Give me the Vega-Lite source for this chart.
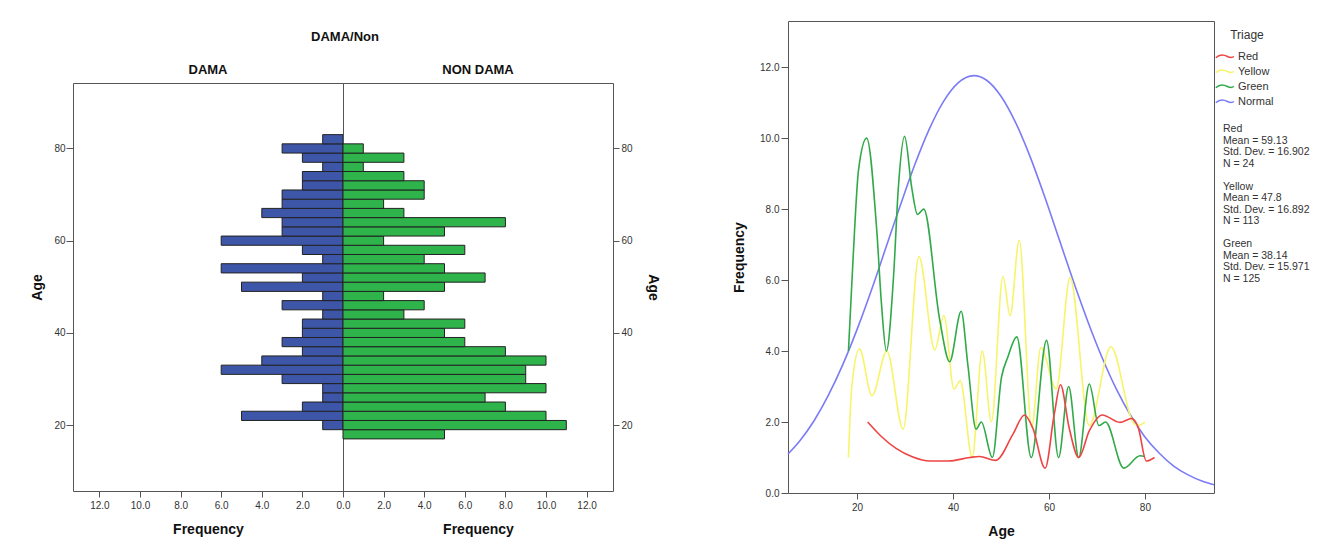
{
  "$schema": "https://vega.github.io/schema/vega-lite/v6.json",
  "background": "white",
  "padding": {"left": 30, "top": 18, "right": 0, "bottom": 0},
  "config": {
    "font": "Liberation Sans",
    "view": {"stroke": "#555", "strokeWidth": 1},
    "axis": {"labelFontSize": 10, "labelColor": "#333", "titleFontSize": 14, "titleFontWeight": "bold", "titleColor": "#111", "tickColor": "#555", "tickSize": 6, "domain": false, "grid": false, "labelFlush": false, "labelPadding": 3},
    "title": {"fontSize": 13, "fontWeight": "bold", "color": "#111"},
    "legend": {"labelColor": "#333", "titleColor": "#333"}
  },
  "datasets": {
    "pyr": [
      {"lo": 17, "hi": 19, "dama": 0, "non": 5},
      {"lo": 19, "hi": 21, "dama": 1, "non": 11},
      {"lo": 21, "hi": 23, "dama": 5, "non": 10},
      {"lo": 23, "hi": 25, "dama": 2, "non": 8},
      {"lo": 25, "hi": 27, "dama": 1, "non": 7},
      {"lo": 27, "hi": 29, "dama": 1, "non": 10},
      {"lo": 29, "hi": 31, "dama": 3, "non": 9},
      {"lo": 31, "hi": 33, "dama": 6, "non": 9},
      {"lo": 33, "hi": 35, "dama": 4, "non": 10},
      {"lo": 35, "hi": 37, "dama": 2, "non": 8},
      {"lo": 37, "hi": 39, "dama": 3, "non": 6},
      {"lo": 39, "hi": 41, "dama": 2, "non": 5},
      {"lo": 41, "hi": 43, "dama": 2, "non": 6},
      {"lo": 43, "hi": 45, "dama": 1, "non": 3},
      {"lo": 45, "hi": 47, "dama": 3, "non": 4},
      {"lo": 47, "hi": 49, "dama": 1, "non": 2},
      {"lo": 49, "hi": 51, "dama": 5, "non": 5},
      {"lo": 51, "hi": 53, "dama": 2, "non": 7},
      {"lo": 53, "hi": 55, "dama": 6, "non": 5},
      {"lo": 55, "hi": 57, "dama": 1, "non": 4},
      {"lo": 57, "hi": 59, "dama": 2, "non": 6},
      {"lo": 59, "hi": 61, "dama": 6, "non": 2},
      {"lo": 61, "hi": 63, "dama": 3, "non": 5},
      {"lo": 63, "hi": 65, "dama": 3, "non": 8},
      {"lo": 65, "hi": 67, "dama": 4, "non": 3},
      {"lo": 67, "hi": 69, "dama": 3, "non": 2},
      {"lo": 69, "hi": 71, "dama": 3, "non": 4},
      {"lo": 71, "hi": 73, "dama": 2, "non": 4},
      {"lo": 73, "hi": 75, "dama": 2, "non": 3},
      {"lo": 75, "hi": 77, "dama": 1, "non": 1},
      {"lo": 77, "hi": 79, "dama": 2, "non": 3},
      {"lo": 79, "hi": 81, "dama": 3, "non": 1},
      {"lo": 81, "hi": 83, "dama": 1, "non": 0}
    ],
    "curves": [
      {"series": "Normal", "age": 5.6, "freq": 1.10},
      {"series": "Normal", "age": 8, "freq": 1.46},
      {"series": "Normal", "age": 11, "freq": 2.03},
      {"series": "Normal", "age": 14, "freq": 2.75},
      {"series": "Normal", "age": 17, "freq": 3.61},
      {"series": "Normal", "age": 20, "freq": 4.61},
      {"series": "Normal", "age": 23, "freq": 5.72},
      {"series": "Normal", "age": 26, "freq": 6.91},
      {"series": "Normal", "age": 29, "freq": 8.10},
      {"series": "Normal", "age": 32, "freq": 9.24},
      {"series": "Normal", "age": 35, "freq": 10.24},
      {"series": "Normal", "age": 38, "freq": 11.03},
      {"series": "Normal", "age": 41, "freq": 11.55},
      {"series": "Normal", "age": 44.36, "freq": 11.76},
      {"series": "Normal", "age": 47, "freq": 11.63},
      {"series": "Normal", "age": 50, "freq": 11.18},
      {"series": "Normal", "age": 53, "freq": 10.45},
      {"series": "Normal", "age": 56, "freq": 9.50},
      {"series": "Normal", "age": 59, "freq": 8.39},
      {"series": "Normal", "age": 62, "freq": 7.20},
      {"series": "Normal", "age": 65, "freq": 6.00},
      {"series": "Normal", "age": 68, "freq": 4.87},
      {"series": "Normal", "age": 71, "freq": 3.84},
      {"series": "Normal", "age": 74, "freq": 2.94},
      {"series": "Normal", "age": 77, "freq": 2.19},
      {"series": "Normal", "age": 80, "freq": 1.58},
      {"series": "Normal", "age": 83, "freq": 1.12},
      {"series": "Normal", "age": 86, "freq": 0.76},
      {"series": "Normal", "age": 89, "freq": 0.51},
      {"series": "Normal", "age": 92, "freq": 0.33},
      {"series": "Normal", "age": 94.4, "freq": 0.23},
      {"series": "Yellow", "age": 18.2, "freq": 1.0},
      {"series": "Yellow", "age": 18.9, "freq": 3.0},
      {"series": "Yellow", "age": 20.5, "freq": 4.06},
      {"series": "Yellow", "age": 23.1, "freq": 2.74},
      {"series": "Yellow", "age": 26.2, "freq": 4.0},
      {"series": "Yellow", "age": 29.6, "freq": 1.8},
      {"series": "Yellow", "age": 32.9, "freq": 6.66},
      {"series": "Yellow", "age": 36.2, "freq": 4.03},
      {"series": "Yellow", "age": 38.1, "freq": 5.0},
      {"series": "Yellow", "age": 40.2, "freq": 2.93},
      {"series": "Yellow", "age": 41.5, "freq": 3.16},
      {"series": "Yellow", "age": 44.0, "freq": 1.0},
      {"series": "Yellow", "age": 46.1, "freq": 4.0},
      {"series": "Yellow", "age": 48.0, "freq": 2.0},
      {"series": "Yellow", "age": 50.4, "freq": 6.1},
      {"series": "Yellow", "age": 51.9, "freq": 5.0},
      {"series": "Yellow", "age": 53.8, "freq": 7.12},
      {"series": "Yellow", "age": 56.4, "freq": 1.85},
      {"series": "Yellow", "age": 58.3, "freq": 4.1},
      {"series": "Yellow", "age": 61.5, "freq": 2.93},
      {"series": "Yellow", "age": 64.4, "freq": 6.07},
      {"series": "Yellow", "age": 68.4, "freq": 1.9},
      {"series": "Yellow", "age": 72.9, "freq": 4.12},
      {"series": "Yellow", "age": 77.5, "freq": 2.0},
      {"series": "Yellow", "age": 78.5, "freq": 1.9},
      {"series": "Yellow", "age": 80.0, "freq": 2.0},
      {"series": "Green", "age": 18.2, "freq": 4.0},
      {"series": "Green", "age": 19.2, "freq": 6.7},
      {"series": "Green", "age": 20.3, "freq": 9.1},
      {"series": "Green", "age": 22.0, "freq": 10.0},
      {"series": "Green", "age": 24.1, "freq": 7.4},
      {"series": "Green", "age": 25.1, "freq": 5.3},
      {"series": "Green", "age": 26.1, "freq": 4.0},
      {"series": "Green", "age": 27.6, "freq": 6.1},
      {"series": "Green", "age": 28.6, "freq": 8.6},
      {"series": "Green", "age": 29.9, "freq": 10.05},
      {"series": "Green", "age": 31.4, "freq": 8.6},
      {"series": "Green", "age": 32.6, "freq": 7.85},
      {"series": "Green", "age": 33.9, "freq": 8.0},
      {"series": "Green", "age": 37.2, "freq": 4.9},
      {"series": "Green", "age": 39.3, "freq": 3.7},
      {"series": "Green", "age": 41.7, "freq": 5.12},
      {"series": "Green", "age": 43.1, "freq": 3.6},
      {"series": "Green", "age": 44.8, "freq": 1.8},
      {"series": "Green", "age": 45.9, "freq": 2.0},
      {"series": "Green", "age": 48.2, "freq": 1.0},
      {"series": "Green", "age": 50.1, "freq": 3.26},
      {"series": "Green", "age": 51.4, "freq": 3.82},
      {"series": "Green", "age": 53.3, "freq": 4.4},
      {"series": "Green", "age": 56.3, "freq": 1.0},
      {"series": "Green", "age": 59.5, "freq": 4.3},
      {"series": "Green", "age": 62.0, "freq": 1.0},
      {"series": "Green", "age": 64.1, "freq": 3.0},
      {"series": "Green", "age": 66.2, "freq": 1.0},
      {"series": "Green", "age": 68.4, "freq": 3.07},
      {"series": "Green", "age": 70.4, "freq": 1.9},
      {"series": "Green", "age": 71.8, "freq": 2.0},
      {"series": "Green", "age": 75.6, "freq": 0.7},
      {"series": "Green", "age": 79.0, "freq": 1.05},
      {"series": "Green", "age": 80.0, "freq": 1.03},
      {"series": "Red", "age": 22.2, "freq": 2.0},
      {"series": "Red", "age": 25.0, "freq": 1.6},
      {"series": "Red", "age": 28.2, "freq": 1.25},
      {"series": "Red", "age": 31.5, "freq": 1.02},
      {"series": "Red", "age": 35.2, "freq": 0.9},
      {"series": "Red", "age": 39.0, "freq": 0.9},
      {"series": "Red", "age": 43.5, "freq": 1.0},
      {"series": "Red", "age": 45.5, "freq": 1.03},
      {"series": "Red", "age": 48.9, "freq": 0.92},
      {"series": "Red", "age": 52.5, "freq": 1.66},
      {"series": "Red", "age": 54.9, "freq": 2.2},
      {"series": "Red", "age": 56.6, "freq": 1.84},
      {"series": "Red", "age": 59.2, "freq": 0.7},
      {"series": "Red", "age": 61.1, "freq": 2.22},
      {"series": "Red", "age": 62.4, "freq": 3.05},
      {"series": "Red", "age": 64.2, "freq": 1.84},
      {"series": "Red", "age": 66.2, "freq": 1.0},
      {"series": "Red", "age": 68.4, "freq": 1.75},
      {"series": "Red", "age": 71.1, "freq": 2.2},
      {"series": "Red", "age": 74.8, "freq": 1.99},
      {"series": "Red", "age": 77.2, "freq": 2.1},
      {"series": "Red", "age": 78.6, "freq": 1.85},
      {"series": "Red", "age": 80.3, "freq": 0.9},
      {"series": "Red", "age": 82.0, "freq": 1.0}
    ],
    "statkey": [{"k": "stats"}],
    "blank": [{"k": "blank"}]
  },
  "spacing": 72,
  "hconcat": [
    {
      "spacing": 5,
      "vconcat": [
        {
          "width": 1,
          "height": 1,
          "view": {"stroke": null},
          "data": {"name": "blank"},
          "mark": {"type": "point", "opacity": 0}
        },
        {
          "title": {"text": "DAMA/Non", "fontSize": 13, "fontWeight": "bold", "offset": 20, "anchor": "middle"},
          "spacing": 0,
          "bounds": "flush",
          "hconcat": [
            {
              "width": 270,
              "height": 408,
              "data": {"name": "pyr"},
              "transform": [{"filter": "datum.dama > 0"}],
              "title": {"text": "DAMA", "fontSize": 13, "fontWeight": "bold", "offset": 6},
              "mark": {"type": "rect", "fill": "#3e56a8", "stroke": "#222", "strokeWidth": 1},
              "encoding": {
                "x": {"field": "dama", "type": "quantitative", "scale": {"domain": [0, 13.3], "reverse": true, "nice": false, "zero": false}, "axis": {"values": [0, 2, 4, 6, 8, 10, 12], "format": ".1f", "title": "Frequency", "titlePadding": 12}},
                "x2": {"datum": 0},
                "y": {"field": "lo", "type": "quantitative", "scale": {"domain": [5.7, 94.2], "nice": false, "zero": false}, "axis": {"values": [20, 40, 60, 80], "title": "Age", "orient": "left", "titlePadding": 9, "tickSize": 7, "labelPadding": 1}},
                "y2": {"field": "hi"}
              }
            },
            {
              "width": 270,
              "height": 408,
              "data": {"name": "pyr"},
              "transform": [{"filter": "datum.non > 0"}],
              "title": {"text": "NON DAMA", "fontSize": 13, "fontWeight": "bold", "offset": 6},
              "mark": {"type": "rect", "fill": "#2eb44a", "stroke": "#222", "strokeWidth": 1},
              "encoding": {
                "x": {"field": "non", "type": "quantitative", "scale": {"domain": [0, 13.3], "nice": false, "zero": false}, "axis": {"values": [2, 4, 6, 8, 10, 12], "format": ".1f", "title": "Frequency", "titlePadding": 12}},
                "x2": {"datum": 0},
                "y": {"field": "lo", "type": "quantitative", "scale": {"domain": [5.7, 94.2], "nice": false, "zero": false}, "axis": {"values": [20, 40, 60, 80], "title": "Age", "orient": "right", "titleAngle": 90, "titlePadding": 13, "tickSize": 6, "labelPadding": 2}},
                "y2": {"field": "hi"}
              }
            }
          ]
        }
      ]
    },
    {
      "width": 426,
      "height": 472,
      "layer": [
        {
          "data": {"name": "curves"},
          "mark": {"type": "line", "interpolate": "monotone", "strokeWidth": 1.6},
          "encoding": {
            "x": {"field": "age", "type": "quantitative", "scale": {"domain": [5.6, 94.4], "nice": false, "zero": false}, "axis": {"values": [20, 40, 60, 80], "format": "d", "title": "Age", "titlePadding": 12}},
            "y": {"field": "freq", "type": "quantitative", "scale": {"domain": [0, 13.3], "nice": false}, "axis": {"values": [0, 2, 4, 6, 8, 10, 12], "format": ".1f", "title": "Frequency", "titlePadding": 13, "tickSize": 7, "labelPadding": 2}},
            "color": {
              "field": "series", "type": "nominal",
              "scale": {"domain": ["Red", "Yellow", "Green", "Normal"], "range": ["#ee4444", "#f7f46a", "#30aa48", "#7b7bf7"]},
              "legend": {"title": ["\u200b", "Triage"], "orient": "right", "offset": 0, "padding": 2, "titleFontSize": 12, "titleLineHeight": 7, "titleFontWeight": "normal", "titleAnchor": "middle", "titlePadding": 7, "labelFontSize": 11, "labelOffset": 3, "rowPadding": 2, "symbolType": "M-1.8,0.2 C-1.2,-0.4 -0.6,-0.3 0,0 C0.4,0.2 0.7,0.2 1,0", "symbolSize": 169, "symbolStrokeWidth": 1.5, "symbolFillColor": "transparent"}
            }
          }
        },
        {
          "data": {"name": "statkey"},
          "mark": {"type": "point", "opacity": 0},
          "encoding": {
            "shape": {
              "field": "k", "type": "nominal",
              "legend": {"title": ["Red", "Mean = 59.13", "Std. Dev. = 16.902", "N = 24", "\u200b", "Yellow", "Mean = 47.8", "Std. Dev. = 16.892", "N = 113", "\u200b", "Green", "Mean = 38.14", "Std. Dev. = 15.971", "N = 125"], "titleOrient": "bottom", "orient": "right", "offset": 0, "padding": 5, "titleFontSize": 10.5, "titleFontWeight": "normal", "titleLineHeight": 11.5, "titleColor": "#333", "titlePadding": 0, "symbolOpacity": 0, "symbolSize": 1, "labelFontSize": 1, "labelExpr": "''"}
            }
          }
        }
      ]
    }
  ]
}
